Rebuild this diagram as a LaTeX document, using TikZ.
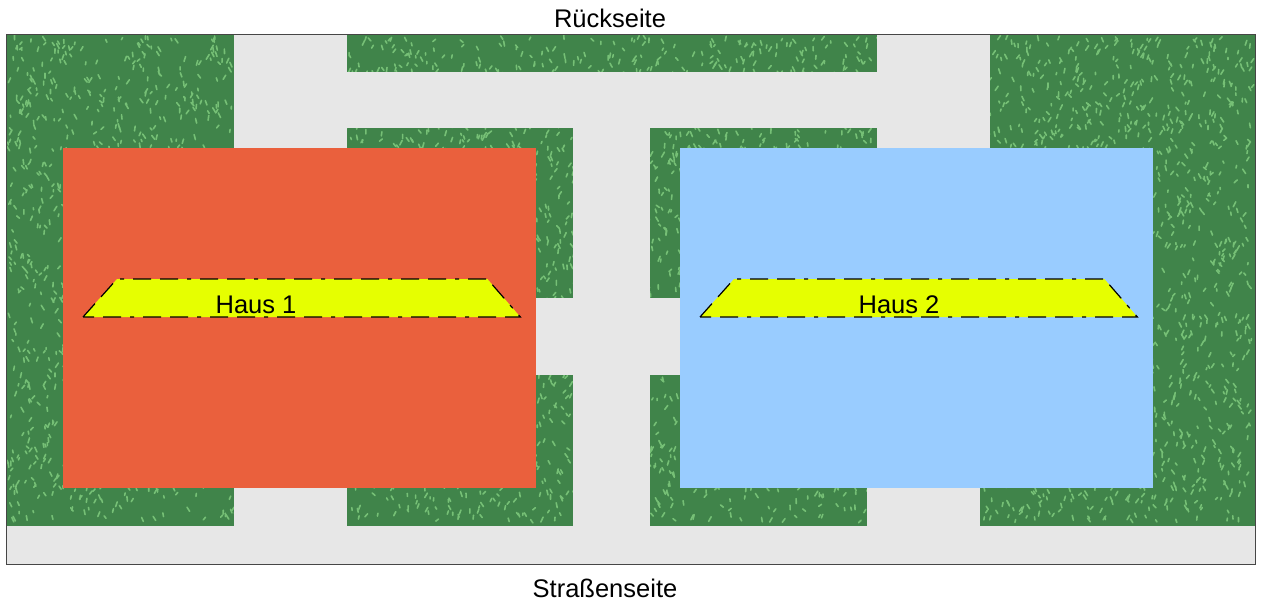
\documentclass[tikz,border=0pt]{standalone}
\usepackage{fontspec}
\setmainfont{Liberation Sans}
\usepackage{tikz}
\usetikzlibrary{calc, patterns, positioning}
\definecolor{rasen}{RGB}{64,132,74}
\definecolor{rasenhell}{RGB}{118,192,118}
\definecolor{pflaster}{RGB}{231,231,231}
\definecolor{rahmen}{RGB}{70,70,70}
\definecolor{rot}{RGB}{234,96,61}
\definecolor{blau}{RGB}{153,204,255}
\definecolor{dach}{RGB}{230,255,0}
\tikzset{
    hausnode/.style = {draw=none, rectangle, inner sep = 0em, anchor=north west,
      minimum width=473pt, minimum height=340pt},
    textnode/.style  = {draw=none, fill=none, rectangle, inner sep = 0em, anchor=base,
      font=\fontsize{25.5}{30}\selectfont},
    grasline/.style = {rasenhell, line width=1.6pt, line cap=round},
    pflaster/.style = {fill=pflaster},
    dachline/.style = {draw=black, line width=1.2pt, fill=dach,
      dash pattern=on 18pt off 9pt on 18pt off 9pt on 4pt off 9pt}
}

\begin{document}
\begin{tikzpicture}[x=1pt, y=-1pt]
\useasboundingbox (0,0) rectangle (1264,604);

% Rasen
\fill[rasen] (6,35) rectangle (1255,564);
\pgfmathsetseed{11}
\foreach \i in {1,...,6000}
  \draw[grasline] ({8+1244*rnd},{39+484*rnd}) -- ++({3*rand},{-2-3*rnd});

% Wege
\fill[pflaster] (6,526) rectangle (1255,564);
\fill[pflaster] (234,35) rectangle (347,526);
\fill[pflaster] (347,72) rectangle (877,128);
\fill[pflaster] (877,35) rectangle (990,148);
\fill[pflaster] (573,128) rectangle (650,526);
\fill[pflaster] (536,298) rectangle (680,375);
\fill[pflaster] (867,488) rectangle (980,526);

% Haeuser
\node[hausnode, name=haus1, fill=rot] at (63,148) {};
\node[hausnode, name=haus2, fill=blau] at (680,148) {};

\draw[dachline] ($(haus1.north west)+(20,169)$) -- ($(haus1.north west)+(54,131)$)
  -- ($(haus1.north east)+(-49,131)$) -- ($(haus1.north east)+(-16,169)$) -- cycle;
\draw[dachline] ($(haus2.north west)+(20,169)$) -- ($(haus2.north west)+(54,131)$)
  -- ($(haus2.north east)+(-49,131)$) -- ($(haus2.north east)+(-16,169)$) -- cycle;

\node[textnode, name=label1] at ($(haus1.north west)+(193,165)$) {Haus 1};
\node[textnode, name=label2] at ($(haus2.north west)+(219,165)$) {Haus 2};

\draw[rahmen, line width=1pt] (6,35) rectangle (1255,564);

\node[textnode, name=rueck] at (610,28) {Rückseite};
\node[textnode, name=strasse] at (605,597) {Straßenseite};
\end{tikzpicture}
\end{document}
